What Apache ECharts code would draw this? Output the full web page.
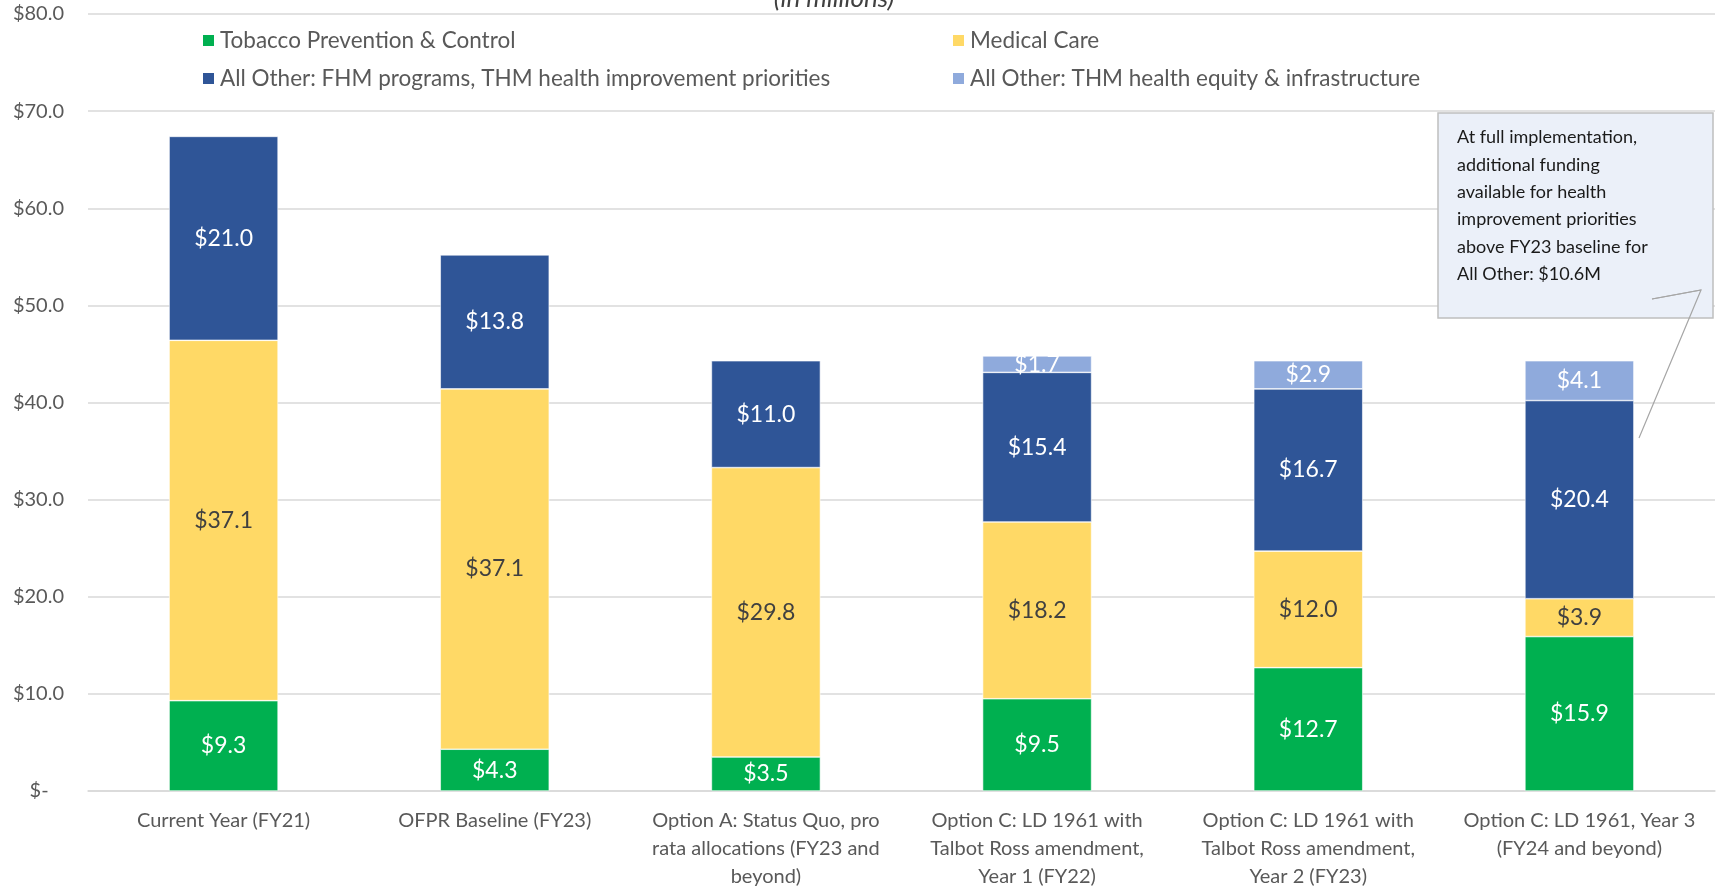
<!DOCTYPE html>
<html>
<head>
<meta charset="utf-8">
<script src="https://cdn.jsdelivr.net/npm/echarts@6/dist/echarts.min.js"></script>
<style>
  html, body { margin: 0; padding: 0; background: #fff; }
  #chart { width: 1725px; height: 891px; }
</style>
</head>
<body>
<div id="chart"></div>
<script>
  const categories = [
    "Current Year (FY21)",
    "OFPR Baseline (FY23)",
    "Option A: Status Quo, pro\nrata allocations (FY23 and\nbeyond)",
    "Option C: LD 1961 with\nTalbot Ross amendment,\nYear 1 (FY22)",
    "Option C: LD 1961 with\nTalbot Ross amendment,\nYear 2 (FY23)",
    "Option C: LD 1961, Year 3\n(FY24 and beyond)"
  ];
  const tobacco = [9.3, 4.3, 3.5, 9.5, 12.7, 15.9];
  const medical = [37.1, 37.1, 29.8, 18.2, 12.0, 3.9];
  const otherFhm = [21.0, 13.8, 11.0, 15.4, 16.7, 20.4];
  const otherEquity = [null, null, null, 1.7, 2.9, 4.1];
  const yTicks = [0, 10, 20, 30, 40, 50, 60, 70, 80];

  const FONT = "Lato, 'Noto Sans', sans-serif";
  const chart = echarts.init(document.getElementById("chart"));

  function seg(name, data, color, labelColor) {
    return {
      name: name,
      type: "bar",
      stack: "total",
      barWidth: 109,
      data: data,
      itemStyle: { color: color, borderColor: "#ffffff", borderWidth: 0.6 },
      label: {
        show: true,
        position: "inside",
        color: labelColor,
        fontFamily: FONT,
        fontSize: 23,
        formatter: p => "$" + p.value.toFixed(1)
      }
    };
  }

  const legendText = { color: "#595959", fontSize: 22.5, lineHeight: 22, fontFamily: FONT };

  const option = {
    animation: false,
    textStyle: { fontFamily: FONT },
    grid: { left: 88, right: 10, top: 14, bottom: 99 },
    legend: [
      {
        orient: "vertical",
        left: 196, top: 24,
        itemWidth: 13, itemHeight: 13, itemGap: 15,
        icon: "rect",
        textStyle: legendText,
        data: ["Tobacco Prevention & Control", "All Other: FHM programs, THM health improvement priorities"]
      },
      {
        orient: "vertical",
        left: 946, top: 24,
        itemWidth: 13, itemHeight: 13, itemGap: 15,
        icon: "rect",
        textStyle: legendText,
        data: ["Medical Care", "All Other: THM health equity & infrastructure"]
      }
    ],
    xAxis: {
      type: "category",
      data: categories,
      axisTick: { show: false },
      axisLine: { lineStyle: { color: "#D9D9D9", width: 1.5 } },
      axisLabel: { color: "#595959", fontSize: 20, lineHeight: 28, margin: 16, interval: 0, fontFamily: FONT }
    },
    yAxis: {
      type: "value",
      min: yTicks[0],
      max: yTicks[yTicks.length - 1],
      interval: 10,
      axisLine: { show: false },
      axisTick: { show: false },
      splitLine: { lineStyle: { color: "#D9D9D9", width: 1.5 } },
      axisLabel: {
        color: "#595959", fontSize: 20, margin: 24, fontFamily: FONT,
        formatter: v => v === 0 ? "$-   " : "$" + v.toFixed(1)
      }
    },
    series: [
      seg("Tobacco Prevention & Control", tobacco, "#00B050", "#ffffff"),
      seg("Medical Care", medical, "#FFD966", "#404040"),
      seg("All Other: FHM programs, THM health improvement priorities", otherFhm, "#2F5597", "#ffffff"),
      seg("All Other: THM health equity & infrastructure", otherEquity, "#8FAADC", "#ffffff")
    ],
    graphic: [
      {
        type: "text",
        x: 834, y: -14,
        style: { text: "(in millions)", fill: "#404040", fontSize: 26, fontStyle: "italic", fontFamily: FONT, textAlign: "center" }
      },
      {
        type: "polyline",
        shape: { points: [[1652, 299], [1701, 290], [1639, 438]] },
        style: { stroke: "#A6A6A6", lineWidth: 1.2, fill: null },
        z: 100
      },
      {
        type: "rect",
        shape: { x: 1438, y: 113, width: 275, height: 205 },
        style: { fill: "#EBF0F9", stroke: "#BFBFBF", lineWidth: 1.5 },
        z: 99
      },
      {
        type: "polyline",
        shape: { points: [[1652, 299], [1701, 290]] },
        style: { stroke: "#A6A6A6", lineWidth: 1.2, fill: null },
        z: 101
      },
      {
        type: "text",
        x: 1457, y: 124,
        z: 102,
        style: {
          text: "At full implementation,\nadditional funding\navailable for health\nimprovement priorities\nabove FY23 baseline for\nAll Other: $10.6M",
          fill: "#1a1a1a", fontSize: 18, lineHeight: 27.3, fontFamily: FONT
        }
      }
    ]
  };
  chart.setOption(option);
</script>
</body>
</html>
